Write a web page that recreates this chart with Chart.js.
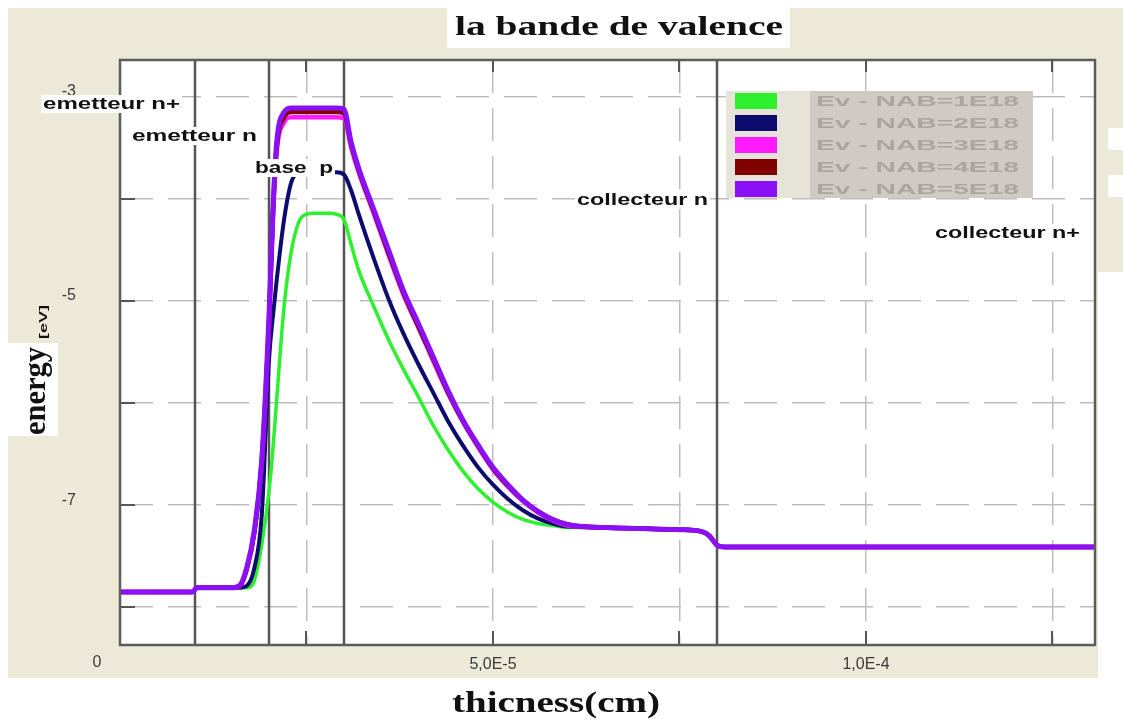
<!DOCTYPE html>
<html>
<head>
<meta charset="utf-8">
<script src="https://cdn.jsdelivr.net/npm/chart.js@4.4.1/dist/chart.umd.min.js"></script>
<style>
  html, body { margin: 0; padding: 0; background: #fff; }
  #wrap { width: 1123px; height: 719px; }
</style>
</head>
<body>
<div id="wrap"><canvas id="chart" width="1123" height="719"></canvas></div>
<script>
// thickness (cm)
const thickness = [0, 0.5e-5, 0.97e-5, 1.03e-5, 1.5e-5, 1.6e-5, 1.7e-5, 1.8e-5, 1.9e-5, 2.0e-5,
  2.05e-5, 2.1e-5, 2.2e-5, 2.3e-5, 2.4e-5, 2.5e-5, 2.6e-5, 2.7e-5, 2.8e-5, 2.9e-5,
  3.0e-5, 3.1e-5, 3.2e-5, 3.4e-5, 3.6e-5, 3.8e-5, 4.0e-5, 4.2e-5, 4.4e-5, 4.6e-5,
  4.8e-5, 5.0e-5, 5.2e-5, 5.4e-5, 5.6e-5, 5.8e-5, 6.0e-5, 6.5e-5, 7.0e-5, 7.5e-5,
  7.8e-5, 7.9e-5, 8.0e-5, 8.1e-5, 9e-5, 10e-5, 11e-5, 12e-5, 13.07e-5];

// valence band energy (eV)
const evNab1 = [-7.85, -7.85, -7.85, -7.81, -7.81, -7.81, -7.81, -7.74, -7.39, -6.85,
  -6.45, -5.97, -5.05, -4.5, -4.22, -4.15, -4.14, -4.14, -4.14, -4.15,
  -4.2, -4.45, -4.7, -5.05, -5.38, -5.67, -5.94, -6.22, -6.46, -6.67,
  -6.84, -6.97, -7.07, -7.14, -7.18, -7.2, -7.22, -7.22, -7.23, -7.24,
  -7.26, -7.3, -7.39, -7.41, -7.41, -7.41, -7.41, -7.41, -7.41];
const evNab2 = [-7.85, -7.85, -7.85, -7.81, -7.81, -7.81, -7.79, -7.62, -7.1, -5.55,
  -5.15, -4.8, -4.2, -3.83, -3.75, -3.74, -3.74, -3.74, -3.74, -3.74,
  -3.76, -3.92, -4.15, -4.58, -4.98, -5.32, -5.62, -5.9, -6.18, -6.42,
  -6.63, -6.8, -6.94, -7.05, -7.13, -7.18, -7.21, -7.22, -7.23, -7.24,
  -7.26, -7.3, -7.39, -7.41, -7.41, -7.41, -7.41, -7.41, -7.41];
const evNab3 = [-7.85, -7.85, -7.85, -7.81, -7.81, -7.8, -7.63, -7.28, -6.6, -5.2,
  -4.2, -3.55, -3.25, -3.2, -3.2, -3.2, -3.2, -3.2, -3.2, -3.2,
  -3.21, -3.5, -3.74, -4.14, -4.55, -4.94, -5.26, -5.59, -5.91, -6.19,
  -6.43, -6.65, -6.82, -6.96, -7.07, -7.15, -7.2, -7.22, -7.23, -7.24,
  -7.26, -7.3, -7.39, -7.41, -7.41, -7.41, -7.41, -7.41, -7.41];
const evNab4 = [-7.85, -7.85, -7.85, -7.81, -7.81, -7.8, -7.62, -7.27, -6.58, -5.15,
  -4.15, -3.5, -3.2, -3.15, -3.15, -3.15, -3.15, -3.15, -3.15, -3.15,
  -3.16, -3.47, -3.72, -4.12, -4.53, -4.92, -5.25, -5.57, -5.9, -6.18,
  -6.42, -6.64, -6.81, -6.95, -7.06, -7.14, -7.19, -7.22, -7.23, -7.24,
  -7.26, -7.3, -7.39, -7.41, -7.41, -7.41, -7.41, -7.41, -7.41];
const evNab5 = [-7.85, -7.85, -7.85, -7.81, -7.81, -7.79, -7.61, -7.25, -6.56, -5.1,
  -4.1, -3.45, -3.15, -3.11, -3.11, -3.11, -3.11, -3.11, -3.11, -3.11,
  -3.12, -3.45, -3.7, -4.1, -4.5, -4.9, -5.22, -5.55, -5.88, -6.17,
  -6.41, -6.63, -6.8, -6.95, -7.06, -7.14, -7.19, -7.22, -7.23, -7.24,
  -7.26, -7.3, -7.39, -7.41, -7.41, -7.41, -7.41, -7.41, -7.41];

const seriesLabels = ['Ev - NAB=1E18', 'Ev - NAB=2E18', 'Ev - NAB=3E18', 'Ev - NAB=4E18', 'Ev - NAB=5E18'];
const seriesValues = [evNab1, evNab2, evNab3, evNab4, evNab5];
const seriesColors = ['#2ef02e', '#0c0c6e', '#ff1aff', '#800000', '#8a10f5'];
const seriesWidths = [3.5, 4, 4.5, 4.5, 5];

// region boundaries (cm) and names
const regionBounds = [1e-5, 2e-5, 3e-5, 8e-5];
const regionNames = ['emetteur n+', 'emetteur n', 'base  p', 'collecteur n', 'collecteur n+'];
// pixel layout of the region names: [left, centre y, width]
const regionNamePos = [[43, 104, 137], [132, 136, 125], [255, 168, 78], [577, 200, 131], [935, 233, 145]];

const BEIGE = '#ece9d8';

function fitText(ctx, text, x, y, width, font, color) {
  ctx.save();
  ctx.font = font;
  ctx.fillStyle = color;
  ctx.textBaseline = 'middle';
  ctx.textAlign = 'left';
  const w = ctx.measureText(text).width;
  ctx.translate(x, y);
  ctx.scale(width / w, 1);
  ctx.fillText(text, 0, 0);
  ctx.restore();
}

const decorPlugin = {
  id: 'decor',
  beforeDraw(chart) {
    const ctx = chart.ctx;
    const a = chart.chartArea;
    ctx.save();
    ctx.fillStyle = '#ffffff';
    ctx.fillRect(0, 0, chart.width, chart.height);
    ctx.fillStyle = BEIGE;
    ctx.fillRect(8, 8, 1090, 670);
    ctx.fillRect(1098, 8, 25, 264);
    ctx.fillStyle = '#ffffff';
    ctx.fillRect(1108, 128, 15, 22);
    ctx.fillRect(1108, 175, 15, 22);
    ctx.fillRect(a.left, a.top, a.right - a.left, a.bottom - a.top);
    ctx.restore();
  },
  beforeDatasetsDraw(chart) {
    const ctx = chart.ctx;
    const a = chart.chartArea;
    const xs = chart.scales.x;
    ctx.save();
    ctx.strokeStyle = '#555555';
    ctx.lineWidth = 2.5;
    regionBounds.forEach(v => {
      const px = Math.round(xs.getPixelForValue(v));
      ctx.beginPath();
      ctx.moveTo(px, a.top);
      ctx.lineTo(px, a.bottom);
      ctx.stroke();
    });
    ctx.restore();
  },
  afterDatasetsDraw(chart) {
    const ctx = chart.ctx;
    const a = chart.chartArea;
    const xs = chart.scales.x;
    const ys = chart.scales.y;
    ctx.save();

    // short solid ticks inside the frame
    ctx.strokeStyle = '#555555';
    ctx.lineWidth = 2;
    ys.ticks.forEach(t => {
      const py = Math.round(ys.getPixelForValue(t.value));
      ctx.beginPath();
      ctx.moveTo(a.left, py);
      ctx.lineTo(a.left + 15, py);
      ctx.stroke();
    });
    xs.ticks.forEach(t => {
      const px = Math.round(xs.getPixelForValue(t.value));
      if (px <= a.left + 2) return;
      ctx.beginPath();
      ctx.moveTo(px, a.bottom);
      ctx.lineTo(px, a.bottom - 14);
      ctx.moveTo(px, a.top);
      ctx.lineTo(px, a.top + 12);
      ctx.stroke();
    });

    // frame
    ctx.strokeStyle = '#5c5c5c';
    ctx.lineWidth = 2.5;
    ctx.strokeRect(a.left, a.top, a.right - a.left, a.bottom - a.top);

    // legend
    ctx.fillStyle = '#e6e3d9';
    ctx.fillRect(726, 91, 84, 107);
    ctx.fillStyle = '#cfcbc4';
    ctx.fillRect(810, 91, 223, 107);
    chart.data.datasets.forEach((ds, i) => {
      const cy = 101 + i * 22;
      ctx.fillStyle = ds.borderColor;
      ctx.fillRect(735, cy - 8, 42, 16);
      fitText(ctx, ds.label, 816, cy + 1, 203, 'bold 15px "Liberation Sans", Arial, sans-serif', '#aaa69e');
    });

    // region names
    regionNames.forEach((name, i) => {
      const [x, y, w] = regionNamePos[i];
      ctx.fillStyle = '#ffffff';
      ctx.fillRect(x - 2, y - 9, w + 4, 18);
      fitText(ctx, name, x, y, w, 'bold 17px "Liberation Sans", Arial, sans-serif', '#111111');
    });

    // title
    ctx.fillStyle = '#ffffff';
    ctx.fillRect(447, 8, 343, 40);
    fitText(ctx, 'la bande de valence', 455, 28, 328, 'bold 28px "Liberation Serif", "Times New Roman", serif', '#111111');

    // x axis title
    fitText(ctx, 'thicness(cm)', 452, 705, 208, 'bold 29px "Liberation Serif", "Times New Roman", serif', '#111111');

    // y axis title
    ctx.fillStyle = '#ffffff';
    ctx.fillRect(8, 343, 50, 93);
    ctx.save();
    ctx.translate(37, 435);
    ctx.rotate(-Math.PI / 2);
    fitText(ctx, 'energy', 0, 0, 88, 'bold 31px "Liberation Serif", "Times New Roman", serif', '#111111');
    fitText(ctx, '[eV]', 96, 7, 34, 'bold 11px "Liberation Sans", Arial, sans-serif', '#111111');
    ctx.restore();

    // origin label
    ctx.font = '16px "Liberation Sans", Arial, sans-serif';
    ctx.fillStyle = '#3a3a3a';
    ctx.textAlign = 'center';
    ctx.textBaseline = 'middle';
    ctx.fillText('0', 97, 663);
    ctx.restore();
  }
};

const ctx = document.getElementById('chart').getContext('2d');
new Chart(ctx, {
  type: 'line',
  data: {
    datasets: seriesLabels.map((label, i) => ({
      label: label,
      data: thickness.map((t, k) => ({ x: t, y: seriesValues[i][k] })),
      borderColor: seriesColors[i],
      backgroundColor: seriesColors[i],
      borderWidth: seriesWidths[i],
      pointRadius: 1.5,
      pointBorderWidth: 0,
      cubicInterpolationMode: 'monotone',
      fill: false,
      order: seriesLabels.length - 1 - i
    }))
  },
  options: {
    responsive: false,
    animation: false,
    layout: { padding: { left: 0, top: 60, right: 28, bottom: 0 } },
    plugins: {
      legend: { display: false },
      title: { display: false },
      tooltip: { enabled: false }
    },
    scales: {
      x: {
        type: 'linear',
        min: 0,
        max: 13.07e-5,
        afterFit: s => { s.height = 74; },
        ticks: {
          stepSize: 2.5e-5,
          includeBounds: false,
          autoSkip: false,
          maxRotation: 0,
          padding: 10,
          color: '#3a3a3a',
          font: { family: '"Liberation Sans", Arial, sans-serif', size: 16 },
          callback: v => {
            const r = v / 5e-5;
            if (v === 0 || Math.abs(r - Math.round(r)) > 1e-6) return '';
            return v.toExponential(1).replace('.', ',').replace('e-', 'E-');
          }
        },
        grid: { color: '#bdbdbd', lineWidth: 1.5, drawTicks: false },
        border: { display: false, dash: [33, 15] }
      },
      y: {
        type: 'linear',
        min: -8.37,
        max: -2.64,
        afterFit: s => { s.width = 120; },
        ticks: {
          stepSize: 1,
          includeBounds: false,
          padding: 44,
          labelOffset: -5,
          color: '#3a3a3a',
          font: { family: '"Liberation Sans", Arial, sans-serif', size: 16 },
          callback: v => (Math.round(v) % 2 !== 0 ? String(v) : '')
        },
        grid: { color: '#bdbdbd', lineWidth: 1.5, drawTicks: false },
        border: { display: false, dash: [33, 15] }
      }
    }
  },
  plugins: [decorPlugin]
});
</script>
</body>
</html>
